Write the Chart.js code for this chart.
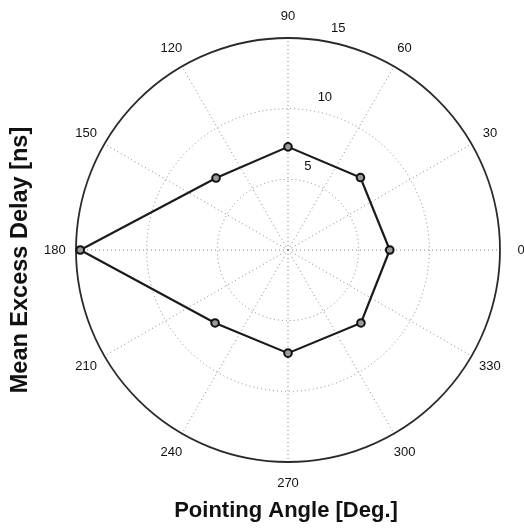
<!DOCTYPE html>
<html>
<head>
<meta charset="utf-8">
<script src="https://cdn.jsdelivr.net/npm/chart.js@4/dist/chart.umd.min.js"></script>
<style>
  html, body { margin: 0; padding: 0; background: #fff; }
  canvas { display: block; }
</style>
</head>
<body>
<canvas id="c" width="524" height="530"></canvas>
<script>
// Pointing angle (deg, counter-clockwise from 0 at the right) and mean excess delay (ns)
const pointingAngles = [0, 45, 90, 135, 180, 225, 270, 315];
const meanExcessDelay = [7.2, 7.25, 7.3, 7.2, 14.7, 7.3, 7.3, 7.3];

// Polar grid: range rings and labelled spokes
const radialTicks = [5, 10, 15];
const angleTicks = [0, 30, 60, 90, 120, 150, 180, 210, 240, 270, 300, 330];

const xTitle = 'Pointing Angle [Deg.]';
const yTitle = 'Mean Excess Delay [ns]';

// The radial scale walks clockwise from its first spoke, so spokes are listed
// as 0, 345, 330, ... (15 deg apart) to read counter-clockwise on screen.
const STEP = 15;
const spokeAngles = [];
for (let i = 0; i < 360 / STEP; i++) spokeAngles.push((360 - i * STEP) % 360);
const spokeValues = spokeAngles.map(a => {
  const k = pointingAngles.indexOf(a);
  return k >= 0 ? meanExcessDelay[k] : null;
});

const FONT = '"Liberation Sans", Arial, Helvetica, sans-serif';
const GRID = '#858585';

// Spoke labels, ring labels and axis titles
const polarText = {
  id: 'polarText',
  afterDraw(chart) {
    const s = chart.scales.r;
    const ctx = chart.ctx;
    ctx.save();
    ctx.fillStyle = '#111';
    ctx.font = '13px ' + FONT;
    ctx.textAlign = 'center';
    ctx.textBaseline = 'middle';
    angleTicks.forEach(a => {
      const p = s.getPointPosition(spokeAngles.indexOf(a), s.drawingArea * 1.1);
      ctx.fillText(String(a), p.x, p.y);
    });

    ctx.textAlign = 'left';
    const th = 79 * Math.PI / 180;
    radialTicks.forEach(v => {
      const rr = s.getDistanceFromCenterForValue(v) + 14;
      ctx.fillText(String(v), s.xCenter + rr * Math.cos(th), s.yCenter - rr * Math.sin(th));
    });

    ctx.fillStyle = '#111';
    ctx.textAlign = 'center';
    ctx.font = 'bold 22px ' + FONT;
    ctx.fillText(xTitle, 286, 511);
    ctx.translate(21, 260);
    ctx.rotate(-Math.PI / 2);
    ctx.font = 'bold 23.5px ' + FONT;
    ctx.fillText(yTitle, 0, 0);
    ctx.restore();
  }
};

const isOuter = c => c.tick && c.tick.value === 15;

new Chart(document.getElementById('c'), {
  type: 'radar',
  data: {
    labels: spokeAngles.map(String),
    datasets: [{
      data: spokeValues,
      spanGaps: true,
      fill: false,
      tension: 0,
      borderColor: '#1a1a1a',
      borderWidth: 2.2,
      backgroundColor: 'rgba(0,0,0,0)',
      pointRadius: 3.8,
      pointBorderWidth: 2,
      pointBorderColor: '#111',
      pointBackgroundColor: '#9a9a9a'
    }]
  },
  options: {
    responsive: false,
    animation: false,
    devicePixelRatio: 1,
    layout: { padding: { left: 76, right: 24, top: 38, bottom: 68 } },
    plugins: {
      legend: { display: false },
      tooltip: { enabled: false }
    },
    scales: {
      r: {
        min: 0,
        max: 15,
        startAngle: 90,
        ticks: { display: false, stepSize: 5 },
        pointLabels: { display: false },
        grid: {
          circular: true,
          color: c => isOuter(c) ? '#2a2a2a' : GRID,
          lineWidth: c => isOuter(c) ? 1.8 : 1
        },
        border: {
          dash: c => isOuter(c) ? [] : [1, 3],
          dashOffset: 0
        },
        angleLines: {
          color: GRID,
          lineWidth: c => spokeAngles[c.index] % 30 === 0 ? 1 : 0,
          borderDash: [1, 3]
        }
      }
    }
  },
  plugins: [polarText]
});
</script>
</body>
</html>
